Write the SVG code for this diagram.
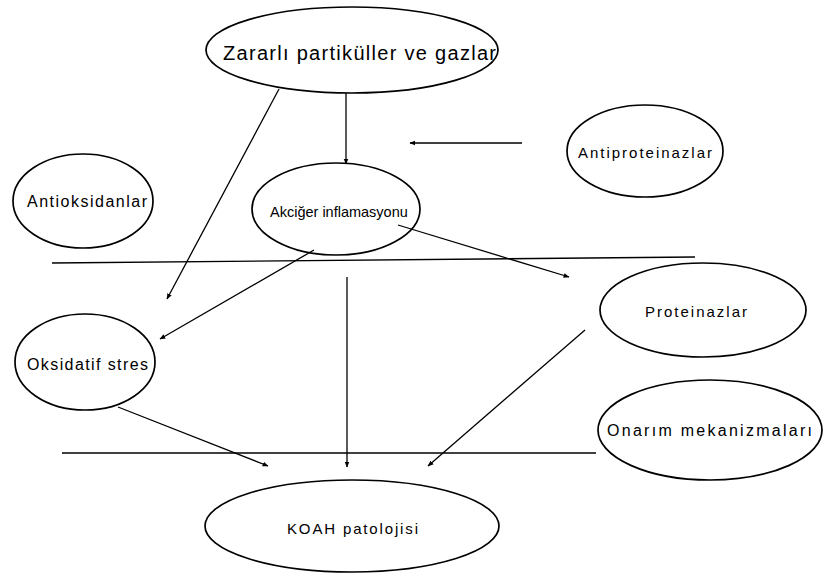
<svg xmlns="http://www.w3.org/2000/svg" width="825" height="575" viewBox="0 0 825 575">
<style>
.n ellipse{fill:#fff;stroke:#000;stroke-width:1.7}
.n text{font-family:"Liberation Sans",Arial,sans-serif;fill:#000;text-anchor:start}
.c line{stroke:#000;stroke-width:1.3;fill:none}
.c .a{marker-end:url(#ah)}
</style>
<defs>
<marker id="ah" viewBox="0 0 10 10" refX="9" refY="5" markerWidth="6" markerHeight="6" markerUnits="userSpaceOnUse" orient="auto">
<path d="M0,1 L10,5 L0,9 z" fill="#000"/>
</marker>
</defs>
<rect width="825" height="575" fill="#fff"/>
<g class="c">
<line x1="52" y1="263" x2="695" y2="257"/>
<line x1="62" y1="453" x2="596" y2="453"/>
<line class="a" x1="346" y1="93" x2="346" y2="164"/>
<line class="a" x1="522" y1="143" x2="410" y2="143"/>
<line class="a" x1="279" y1="89" x2="167" y2="299"/>
<line class="a" x1="314" y1="250" x2="160" y2="339"/>
<line class="a" x1="398" y1="225" x2="569" y2="277"/>
<line class="a" x1="347" y1="277" x2="347" y2="467"/>
<line class="a" x1="118" y1="407" x2="268" y2="466"/>
<line class="a" x1="585" y1="330" x2="428" y2="466"/>
</g>
<g id="zararli" class="n"><ellipse cx="352" cy="50" rx="146" ry="43"/><text x="223" y="60" font-size="20" textLength="273" lengthAdjust="spacing">Zararlı partiküller ve gazlar</text></g>
<g id="antioksidanlar" class="n"><ellipse cx="83" cy="201" rx="70" ry="47"/><text x="27" y="207" font-size="16" textLength="120" lengthAdjust="spacing">Antioksidanlar</text></g>
<g id="antiproteinazlar" class="n"><ellipse cx="645" cy="151" rx="78" ry="46"/><text x="578" y="158" font-size="15" textLength="134" lengthAdjust="spacing">Antiproteinazlar</text></g>
<g id="akciger" class="n"><ellipse cx="336" cy="209" rx="84" ry="46" style="fill:none"/><text x="270" y="217" font-size="14.5">Akciğer inflamasyonu</text></g>
<g id="oksidatif" class="n"><ellipse cx="85" cy="362" rx="70" ry="48"/><text x="27" y="370" font-size="16" textLength="121" lengthAdjust="spacing">Oksidatif stres</text></g>
<g id="proteinazlar" class="n"><ellipse cx="703" cy="310" rx="103" ry="47"/><text x="645" y="317" font-size="15" textLength="102" lengthAdjust="spacing">Proteinazlar</text></g>
<g id="onarim" class="n"><ellipse cx="710" cy="430" rx="112" ry="50"/><text x="607" y="436" font-size="16" textLength="205" lengthAdjust="spacing">Onarım mekanizmaları</text></g>
<g id="koah" class="n"><ellipse cx="352" cy="526" rx="147" ry="46"/><text x="287" y="534" font-size="15" textLength="131" lengthAdjust="spacing">KOAH patolojisi</text></g>
</svg>
